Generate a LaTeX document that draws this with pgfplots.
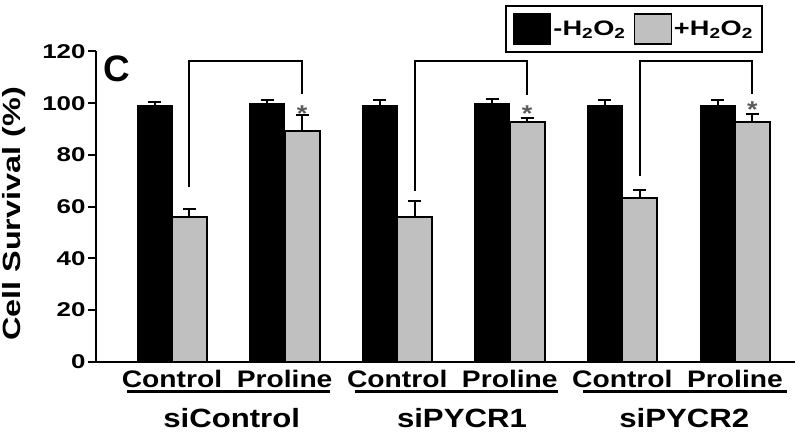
\documentclass[border=0pt]{standalone}
\usepackage{fontspec}
\setmainfont{Liberation Sans}
\newfontfamily\wf{Liberation Sans}[FakeStretch=1.18]
\newfontfamily\wwf{Liberation Sans}[FakeStretch=1.3]
\usepackage{pgfplots}
\pgfplotsset{compat=1.18}
\definecolor{barg}{RGB}{192,192,192}
\definecolor{stargray}{RGB}{90,90,90}

\begin{document}
\begin{tikzpicture}
\path[use as bounding box] (-96bp,-71.3bp) rectangle (704bp,361.7bp);
\begin{axis}[
    at={(0,0)}, anchor=south west,
    scale only axis, width=699bp, height=310.2bp,
    xmin=-0.675, xmax=5.533, ymin=0, ymax=120,
    clip=false,
    axis lines=left, axis line style={-, line width=2bp},
    ytick={0,20,...,120},
    xtick={0,...,5},
    xticklabels={Control,Proline,Control,Proline,Control,Proline},
    xtick style={draw=none},
    ytick style={line width=2bp, black},
    tick align=outside, major tick length=8bp,
    /pgf/number format/assume math mode=true,
    yticklabel style={font=\wwf\bfseries\fontsize{20}{20}\selectfont, xshift=1bp},
    xticklabel style={font=\wf\bfseries\fontsize{24}{24}\selectfont, anchor=base, yshift=-18bp},
    ylabel={Cell Survival (\%)},
    ylabel style={at={(axis description cs:-0.117,0.476)}, anchor=center,
        font=\wwf\bfseries\fontsize{25}{25}\selectfont},
    legend style={at={(axis description cs:0.954,1.15)}, anchor=north east,
        draw=black, line width=2bp, legend columns=2,
        font=\wwf\bfseries\fontsize{21}{21}\selectfont,
        inner xsep=7bp, inner ysep=7.5bp,
        /tikz/every even column/.append style={column sep=6bp}},
    legend image code/.code={\draw[#1, line width=1.5bp] (0bp,-15bp) rectangle (37bp,15bp);},
]
% -H2O2
\addplot[ybar, bar width=35bp, bar shift=0pt, fill=black, draw=black, line width=1bp,
    error bars/.cd, y dir=plus, y explicit,
    error bar style={line width=2bp, black},
    error mark options={rotate=90, mark size=6.5bp, line width=2bp}]
coordinates {(-0.155,99.1) +- (0,1.5) (0.845,99.7) +- (0,1.4) (1.845,99.1) +- (0,2.0)
             (2.845,99.7) +- (0,2.0) (3.845,99.1) +- (0,2.0) (4.845,99.1) +- (0,2.0)};
\addlegendentry{-H\textsubscript{2}O\textsubscript{2}}
% +H2O2
\addplot[ybar, bar width=35bp, bar shift=0pt, fill=barg, draw=black, line width=2bp,
    error bars/.cd, y dir=plus, y explicit,
    error bar style={line width=2bp, black},
    error mark options={rotate=90, mark size=6.5bp, line width=2bp}]
coordinates {(0.155,55.8) +- (0,3.2) (1.155,89.4) +- (0,6.1) (2.155,55.8) +- (0,6.2)
             (3.155,92.7) +- (0,1.7) (4.155,63.3) +- (0,3.2) (5.155,92.7) +- (0,3.0)};
\addlegendentry{+H\textsubscript{2}O\textsubscript{2}}
% comparison brackets
\addplot[black, line width=2bp, sharp plot, mark=none, forget plot]
  coordinates {(0.155,67.5) (0.155,116.2) (1.155,116.2) (1.155,103.7)};
\addplot[black, line width=2bp, sharp plot, mark=none, forget plot]
  coordinates {(2.155,66) (2.155,116.2) (3.155,116.2) (3.155,103)};
\addplot[black, line width=2bp, sharp plot, mark=none, forget plot]
  coordinates {(4.155,72) (4.155,116.2) (5.155,116.2) (5.155,103.7)};
% group underlines
\addplot[black, line width=2.5bp, sharp plot, mark=none, forget plot]
  coordinates {(-0.40,-11.6) (1.40,-11.6)};
\addplot[black, line width=2.5bp, sharp plot, mark=none, forget plot]
  coordinates {(1.625,-11.6) (3.43,-11.6)};
\addplot[black, line width=2.5bp, sharp plot, mark=none, forget plot]
  coordinates {(3.65,-11.6) (5.46,-11.6)};
% stars
\node[anchor=base, text=stargray, font=\wf\bfseries\fontsize{23}{23}\selectfont] at (axis cs:1.155,93.0) {*};
\node[anchor=base, text=stargray, font=\wf\bfseries\fontsize{23}{23}\selectfont] at (axis cs:3.155,93.0) {*};
\node[anchor=base, text=stargray, font=\wf\bfseries\fontsize{23}{23}\selectfont] at (axis cs:5.155,94.5) {*};
% panel letter
\node[font=\bfseries\fontsize{37}{37}\selectfont] at (axis cs:-0.49,113.2) {C};
% group names
\node[anchor=base, font=\wf\bfseries\fontsize{26.5}{26.5}\selectfont] at (axis cs:0.53,-25.3) {siControl};
\node[anchor=base, font=\wf\bfseries\fontsize{26.5}{26.5}\selectfont] at (axis cs:2.575,-25.3) {siPYCR1};
\node[anchor=base, font=\wf\bfseries\fontsize{26.5}{26.5}\selectfont] at (axis cs:4.55,-25.3) {siPYCR2};
\end{axis}
\end{tikzpicture}
\end{document}
